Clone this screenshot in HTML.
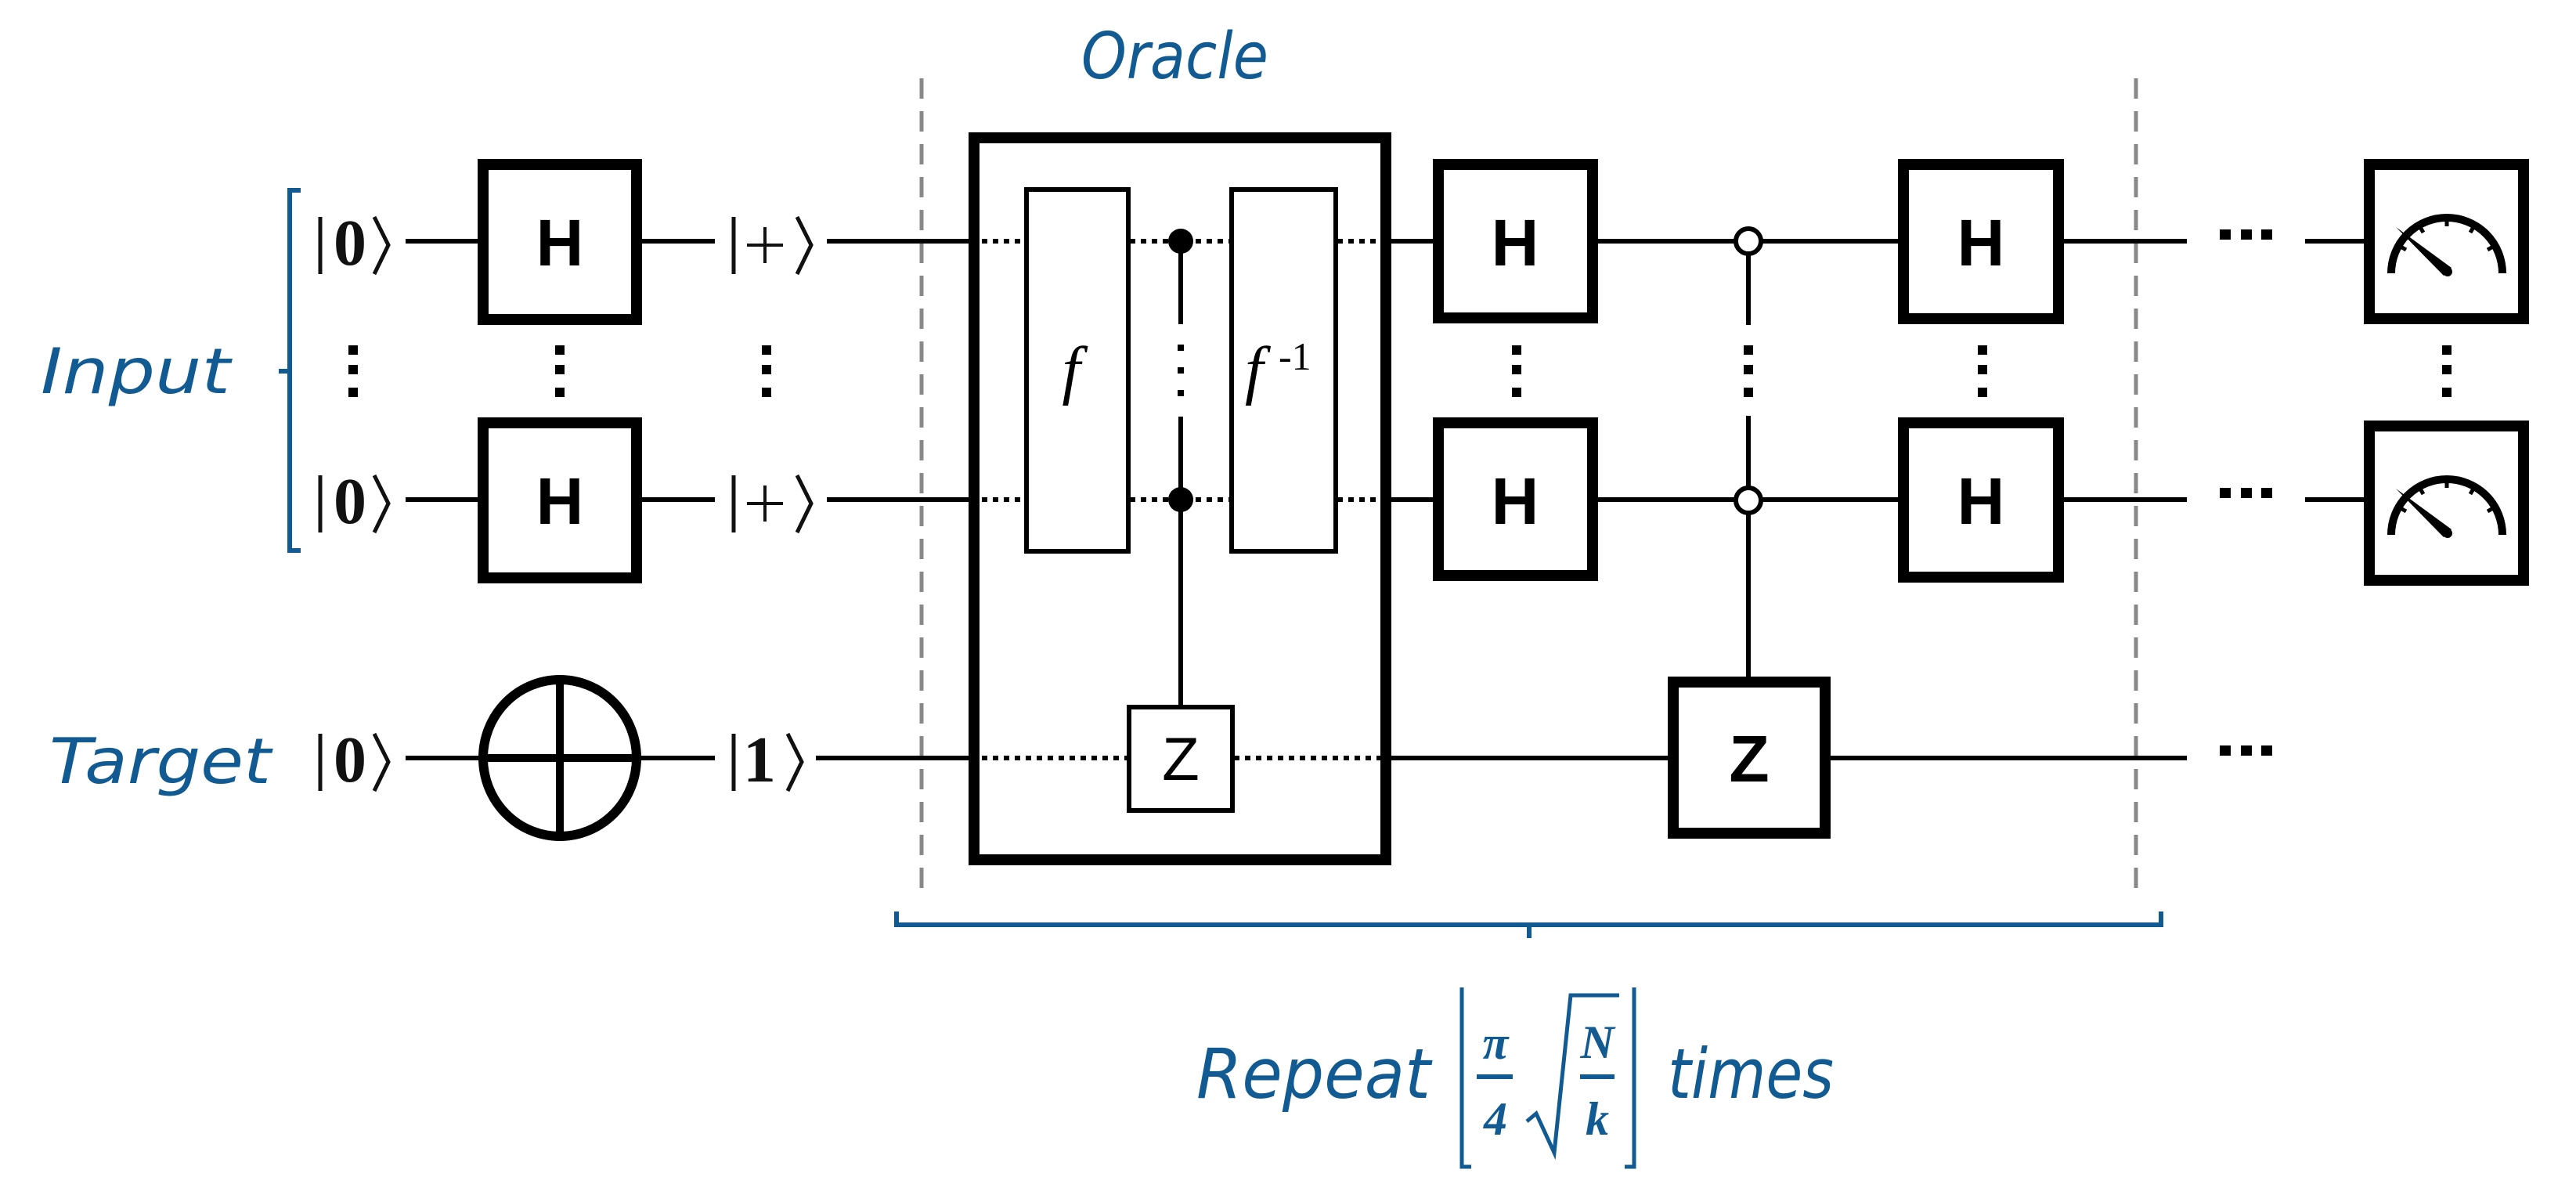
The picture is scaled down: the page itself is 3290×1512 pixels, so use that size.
<!DOCTYPE html>
<html><head><meta charset="utf-8"><style>
html,body{margin:0;padding:0;background:#fff;}
svg{display:block;}
.dig{font-family:"Liberation Serif","DejaVu Serif",serif;font-weight:bold;font-size:84px;fill:#111;}
.hand{font-family:"DejaVu Sans","Liberation Sans",sans-serif;font-style:italic;fill:#125b92;}
.gate{font-family:"Liberation Sans",sans-serif;font-weight:bold;font-size:84px;fill:#000;}
</style></head><body>
<svg width="3290" height="1512" viewBox="0 0 3290 1512" xmlns="http://www.w3.org/2000/svg">
<rect width="3290" height="1512" fill="#fff"/>
<!-- dashed separators -->
<g stroke="#888" stroke-width="5" stroke-dasharray="26 16">
<line x1="1177" y1="100" x2="1177" y2="1150"/>
<line x1="2728" y1="100" x2="2728" y2="1150"/>
</g>
<!-- oracle box -->
<rect x="1244" y="176" width="526" height="922" fill="#fff" stroke="#000" stroke-width="14"/>
<!-- solid wires -->
<g stroke="#000" stroke-width="6" fill="none">
<path d="M518 308H612M818 308H913M1056 308H1238M1776 308H1830M2041 308H2424M2636 308H2793M2944 308H3019"/>
<path d="M518 638H612M818 638H913M1056 638H1238M1776 638H1830M2041 638H2424M2636 638H2793M2944 638H3019"/>
<path d="M518 968H612M818 968H913M1042 968H1238M1776 968H2130M2338 968H2793"/>
</g>
<!-- dotted wires in oracle -->
<g stroke="#000" stroke-width="6" stroke-dasharray="7 7" fill="none">
<path d="M1254 308H1308M1443 308H1571M1708 308H1764"/>
<path d="M1254 638H1308M1443 638H1571M1708 638H1764"/>
<path d="M1254 968H1440M1576 968H1764"/>
</g>
<!-- Input bracket -->
<path d="M384 243H370V703H384M370 474H356" stroke="#125b92" stroke-width="6" fill="none"/>
<text class="hand" x="52" y="502" font-size="80" textLength="242" lengthAdjust="spacingAndGlyphs">Input</text>
<text class="hand" x="63" y="1000" font-size="80" textLength="283" lengthAdjust="spacingAndGlyphs">Target</text>
<text class="hand" x="1381" y="100" font-size="82" textLength="239" lengthAdjust="spacingAndGlyphs">Oracle</text>
<!-- kets -->
<g stroke="#111" stroke-width="5" fill="none">
<path d="M409 277V350M478 277L496 313L478 350"/>
<path d="M409 607V680M478 607L496 643L478 680"/>
<path d="M409 937V1010M478 937L496 973L478 1010"/>
<path d="M937 277V350M1018 277L1036 313L1018 350"/>
<path d="M937 607V680M1018 607L1036 643L1018 680"/>
<path d="M937 937V1010M1006 937L1024 973L1006 1010"/>
<path d="M977 290V336M954 313H1000M977 620V666M954 643H1000" stroke-width="4"/>
</g>
<text class="dig" x="447" y="338" text-anchor="middle">0</text>
<text class="dig" x="447" y="668" text-anchor="middle">0</text>
<text class="dig" x="447" y="998" text-anchor="middle">0</text>
<text class="dig" x="970" y="998" text-anchor="middle">1</text>
<!-- H boxes -->
<g fill="#fff" stroke="#000" stroke-width="14">
<rect x="617" y="210" width="196" height="198"/>
<rect x="617" y="540" width="196" height="198"/>
<rect x="1837" y="210" width="197" height="196"/>
<rect x="1837" y="540" width="197" height="195"/>
<rect x="2431" y="210" width="198" height="197"/>
<rect x="2431" y="540" width="198" height="197"/>
<rect x="2137" y="871" width="194" height="193"/>
<rect x="3026" y="210" width="197" height="197"/>
<rect x="3026" y="544" width="197" height="197"/>
</g>
<g class="gate" text-anchor="middle">
<text x="715" y="339">H</text><text x="715" y="669">H</text>
<text x="1935" y="339">H</text><text x="1935" y="669">H</text>
<text x="2530" y="339">H</text><text x="2530" y="669">H</text>
<text x="2234" y="998">Z</text>
</g>
<!-- CNOT target -->
<ellipse cx="715" cy="968" rx="98" ry="100" fill="#fff" stroke="#000" stroke-width="12"/>
<path d="M715 868V1068M617 968H813" stroke="#000" stroke-width="10"/>
<!-- oracle internals -->
<g fill="#fff" stroke="#000" stroke-width="6">
<rect x="1311" y="242" width="130" height="462"/>
<rect x="1573" y="242" width="133" height="462"/>
</g>
<path d="M1508 308V414M1508 532V901" stroke="#000" stroke-width="6"/>
<rect x="1442" y="903" width="132" height="132" fill="#fff" stroke="#000" stroke-width="6"/>
<text x="1508" y="996" text-anchor="middle" font-family="Liberation Sans,sans-serif" font-size="78" fill="#000">Z</text>
<circle cx="1508" cy="308" r="16" fill="#000"/>
<circle cx="1508" cy="638" r="16" fill="#000"/>
<text x="1368" y="500" font-family="Liberation Serif,serif" font-style="italic" font-size="84" text-anchor="middle">f</text>
<text x="1590" y="500" font-family="Liberation Serif,serif" font-style="italic" font-size="84">f</text>
<text x="1633" y="472" font-family="Liberation Serif,serif" font-size="50">-1</text>
<g fill="#000">
<rect x="1504" y="440" width="8" height="8"/><rect x="1504" y="469" width="8" height="8"/><rect x="1504" y="498" width="8" height="8"/>
</g>
<!-- open controls -->
<path d="M2233 326V415M2233 531V864" stroke="#000" stroke-width="6"/>
<circle cx="2233" cy="308" r="16" fill="#fff" stroke="#000" stroke-width="6"/>
<circle cx="2233" cy="639" r="16" fill="#fff" stroke="#000" stroke-width="6"/>
<!-- vertical dots -->
<g fill="#000">
<rect x="445" y="441" width="12" height="12"/><rect x="445" y="466" width="12" height="12"/><rect x="445" y="495" width="12" height="12"/>
<rect x="709" y="441" width="12" height="12"/><rect x="709" y="466" width="12" height="12"/><rect x="709" y="495" width="12" height="12"/>
<rect x="973" y="441" width="12" height="12"/><rect x="973" y="466" width="12" height="12"/><rect x="973" y="495" width="12" height="12"/>
<rect x="1931" y="441" width="12" height="12"/><rect x="1931" y="466" width="12" height="12"/><rect x="1931" y="495" width="12" height="12"/>
<rect x="2227" y="441" width="12" height="12"/><rect x="2227" y="466" width="12" height="12"/><rect x="2227" y="495" width="12" height="12"/>
<rect x="2526" y="441" width="12" height="12"/><rect x="2526" y="466" width="12" height="12"/><rect x="2526" y="495" width="12" height="12"/>
<rect x="3119" y="441" width="12" height="12"/><rect x="3119" y="466" width="12" height="12"/><rect x="3119" y="495" width="12" height="12"/>
<rect x="2835" y="293" width="14" height="13"/><rect x="2862" y="293" width="14" height="13"/><rect x="2888" y="293" width="14" height="13"/>
<rect x="2835" y="623" width="14" height="13"/><rect x="2862" y="623" width="14" height="13"/><rect x="2888" y="623" width="14" height="13"/>
<rect x="2835" y="952" width="14" height="13"/><rect x="2862" y="952" width="14" height="13"/><rect x="2888" y="952" width="14" height="13"/>
</g>
<!-- meters -->
<g>
<path d="M3054 349A71 71 0 0 1 3196 349" fill="none" stroke="#000" stroke-width="10"/>
<path d="M3063.5 313.5L3073 319M3089.5 287.5L3095 297M3125 278V289M3160.5 287.5L3155 297M3186.5 313.5L3177 319" stroke="#000" stroke-width="5"/>
<polygon points="3060,290 3121,352 3131,342" fill="#000"/>
<circle cx="3126" cy="347" r="6" fill="#000"/>
</g>
<g transform="translate(0,334)">
<path d="M3054 349A71 71 0 0 1 3196 349" fill="none" stroke="#000" stroke-width="10"/>
<path d="M3063.5 313.5L3073 319M3089.5 287.5L3095 297M3125 278V289M3160.5 287.5L3155 297M3186.5 313.5L3177 319" stroke="#000" stroke-width="5"/>
<polygon points="3060,290 3121,352 3131,342" fill="#000"/>
<circle cx="3126" cy="347" r="6" fill="#000"/>
</g>
<!-- bottom brace -->
<path d="M1145 1164V1181H2760V1164M1953 1181V1198" stroke="#125b92" stroke-width="6" fill="none"/>
<text class="hand" x="1528" y="1402" font-size="88" textLength="299" lengthAdjust="spacingAndGlyphs">Repeat</text>
<text class="hand" x="2130" y="1402" font-size="88" textLength="212" lengthAdjust="spacingAndGlyphs">times</text>
<g stroke="#125b92" stroke-width="5" fill="none">
<path d="M1867 1261V1490H1879M2087 1261V1490H2075"/>
<path d="M1886 1375H1932M2018 1375H2062" stroke-width="6"/>
<path d="M1950 1432L1962 1422L1985 1472L2006 1271H2068"/>
</g>
<g font-family="Liberation Serif,serif" font-weight="bold" font-style="italic" fill="#125b92" font-size="60" text-anchor="middle">
<text x="1910" y="1352">π</text>
<text x="1910" y="1449">4</text>
<text x="2040" y="1351">N</text>
<text x="2040" y="1449">k</text>
</g>
</svg>
</body></html>
